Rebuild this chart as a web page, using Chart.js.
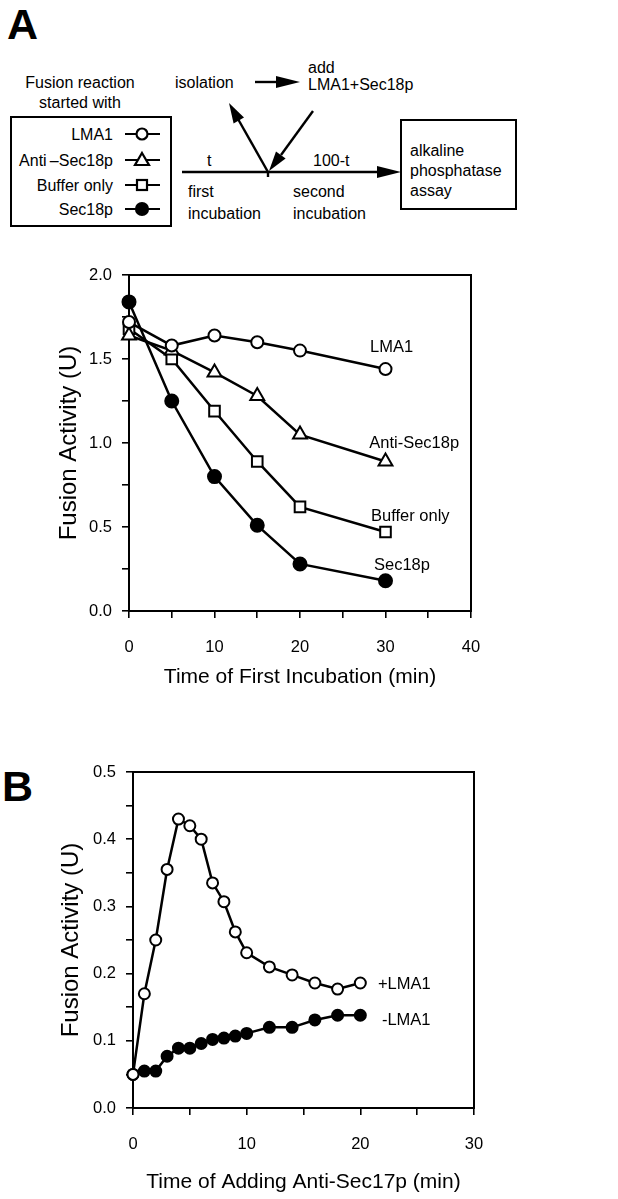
<!DOCTYPE html>
<html>
<head>
<meta charset="utf-8">
<script src="https://cdn.jsdelivr.net/npm/chart.js@4.4.1/dist/chart.umd.min.js"></script>
<style>
  html, body { margin: 0; padding: 0; background: #fff; }
  #page { position: relative; width: 618px; height: 1199px; overflow: hidden; font-family: "Liberation Sans", Arial, sans-serif; }
  #diagram { position: absolute; left: 0; top: 0; }
  .box { position: absolute; left: 0; width: 618px; }
  #boxA { top: 240px; height: 460px; }
  #boxB { top: 730px; height: 469px; }
</style>
</head>
<body>
<div id="page">
  <svg id="diagram" width="618" height="1199" font-family="Liberation Sans, Arial, sans-serif">
    <text x="7" y="39" font-size="43" font-weight="bold">A</text>
    <text x="2" y="801" font-size="43" font-weight="bold">B</text>

    <g font-size="16" fill="#000">
      <text x="80" y="88" text-anchor="middle">Fusion reaction</text>
      <text x="80" y="108" text-anchor="middle">started with</text>
      <rect x="11" y="117" width="160" height="109" fill="none" stroke="#000" stroke-width="2"/>
      <text x="113" y="140" text-anchor="end">LMA1</text>
      <text x="113" y="166" text-anchor="end">Anti&#8201;–Sec18p</text>
      <text x="113" y="191" text-anchor="end">Buffer only</text>
      <text x="113" y="215" text-anchor="end">Sec18p</text>
    </g>
    <g stroke="#000" stroke-width="2.2">
      <line x1="125" y1="134" x2="160" y2="134"/>
      <circle cx="142" cy="134" r="5.5" fill="#fff"/>
      <line x1="125" y1="160" x2="160" y2="160"/>
      <polygon points="142,153 149,165 135,165" fill="#fff"/>
      <line x1="125" y1="185" x2="160" y2="185"/>
      <rect x="137" y="180" width="10" height="10" fill="#fff"/>
      <line x1="125" y1="209" x2="160" y2="209"/>
      <circle cx="142" cy="209" r="6" fill="#000"/>
    </g>

    <g font-size="16" fill="#000">
      <text x="175" y="88">isolation</text>
      <text x="308" y="73">add</text>
      <text x="308" y="90">LMA1+Sec18p</text>
      <text x="207" y="166">t</text>
      <text x="313" y="166">100-t</text>
      <text x="188" y="197">first</text>
      <text x="188" y="219">incubation</text>
      <text x="293" y="197">second</text>
      <text x="293" y="219">incubation</text>
      <text x="410" y="156">alkaline</text>
      <text x="410" y="176">phosphatase</text>
      <text x="410" y="196">assay</text>
    </g>
    <g stroke="#000" stroke-width="2.4" fill="#000">
      <line x1="255" y1="82" x2="280" y2="82"/>
      <polygon points="300,82 276,76 276,88" stroke="none"/>
      <line x1="268" y1="172" x2="238" y2="119"/>
      <polygon points="229,103 244,117.5 233.6,123.4" stroke="none"/>
      <line x1="313" y1="111" x2="281" y2="155"/>
      <polygon points="269,171 285.6,158.4 276,151.4" stroke="none"/>
      <line x1="182" y1="172" x2="380" y2="172"/>
      <line x1="268" y1="172" x2="268" y2="177"/>
      <polygon points="401,172 377,166 377,178" stroke="none"/>
      <rect x="401" y="120" width="115" height="89" fill="none" stroke-width="2"/>
    </g>
  </svg>

  <div class="box" id="boxA"><canvas id="chartA" width="618" height="460"></canvas></div>
  <div class="box" id="boxB"><canvas id="chartB" width="618" height="469"></canvas></div>
</div>

<script>
// Panel A: time of first incubation (min)
const timesA = [0, 5, 10, 15, 20, 30];
const lma1A = [1.72, 1.58, 1.64, 1.60, 1.55, 1.44];
const antiSec18pA = [1.64, 1.55, 1.42, 1.28, 1.05, 0.89];
const bufferOnlyA = [1.68, 1.50, 1.19, 0.89, 0.62, 0.47];
const sec18pA = [1.84, 1.25, 0.80, 0.51, 0.28, 0.18];

// Panel B: time of adding anti-Sec17p (min)
const timesB = [0, 1, 2, 3, 4, 5, 6, 7, 8, 9, 10, 12, 14, 16, 18, 20];
const plusLma1B = [0.05, 0.17, 0.25, 0.355, 0.43, 0.42, 0.40, 0.335, 0.307, 0.262, 0.231, 0.21, 0.198, 0.186, 0.177, 0.186];
const minusLma1B = [0.05, 0.055, 0.055, 0.077, 0.089, 0.089, 0.096, 0.102, 0.104, 0.107, 0.111, 0.120, 0.120, 0.131, 0.138, 0.138];

const FONT = '"Liberation Sans", Arial, sans-serif';
Chart.defaults.font.family = FONT;
Chart.defaults.color = '#000';

const toPoints = (xs, ys) => xs.map((x, i) => ({ x: x, y: ys[i] }));

const series = (label, xs, ys, style, radius, fill) => ({
    label: label,
    data: toPoints(xs, ys),
    borderColor: '#000',
    borderWidth: 2.5,
    pointStyle: style,
    pointRadius: radius,
    pointHoverRadius: radius,
    pointBackgroundColor: fill,
    pointBorderColor: '#000',
    pointBorderWidth: 2,
    tension: 0,
    clip: false
});

// box round the plot area
const framePlugin = {
    id: 'frame',
    beforeDatasetsDraw(chart) {
        const { ctx, chartArea: a } = chart;
        ctx.save();
        ctx.strokeStyle = '#000';
        ctx.lineWidth = 2;
        ctx.strokeRect(a.left, a.top, a.right - a.left, a.bottom - a.top);
        ctx.restore();
    }
};

// text names next to the curves
const curveLabels = {
    id: 'curveLabels',
    afterDatasetsDraw(chart, args, opts) {
        const { ctx, scales } = chart;
        ctx.save();
        ctx.font = '16.5px ' + FONT;
        ctx.fillStyle = '#000';
        ctx.textBaseline = 'middle';
        opts.items.forEach(it => {
            ctx.fillText(it.text, scales.x.getPixelForValue(it.x), scales.y.getPixelForValue(it.y));
        });
        ctx.restore();
    }
};

const axisOptions = (cfg) => ({
    x: {
        type: 'linear',
        min: 0,
        max: cfg.xMax,
        afterFit: s => { s.height = cfg.xHeight; },
        grid: { drawOnChartArea: false, color: '#000', lineWidth: 1.6, tickLength: 7 },
        border: { color: '#000', width: 2 },
        ticks: {
            stepSize: 5,
            autoSkip: false,
            maxRotation: 0,
            padding: 20,
            font: { size: 16.5 },
            callback: v => (v % 10 === 0 ? String(v) : '')
        },
        title: {
            display: true,
            text: cfg.xTitle,
            font: { size: 21 },
            padding: { top: 0, bottom: cfg.xTitlePad }
        }
    },
    y: {
        min: 0,
        max: cfg.yMax,
        afterFit: s => { s.width = cfg.yWidth; },
        grid: { drawOnChartArea: false, color: '#000', lineWidth: 1.6, tickLength: 7 },
        border: { color: '#000', width: 2 },
        ticks: {
            stepSize: cfg.yStep,
            autoSkip: false,
            padding: 10,
            font: { size: 16.5 },
            callback: cfg.yLabel
        },
        title: {
            display: true,
            text: 'Fusion Activity (U)',
            font: { size: 24 },
            padding: { top: cfg.yTitlePad, bottom: 0 }
        }
    }
});

new Chart(document.getElementById('chartA'), {
    type: 'line',
    data: {
        datasets: [
            series('Sec18p', timesA, sec18pA, 'circle', 6.5, '#000'),
            series('LMA1', timesA, lma1A, 'circle', 6, '#fff'),
            series('Anti-Sec18p', timesA, antiSec18pA, 'triangle', 8, '#fff'),
            series('Buffer only', timesA, bufferOnlyA, 'rect', 7.5, '#fff')
        ]
    },
    options: {
        responsive: false,
        animation: false,
        layout: { padding: { left: 0, right: 147, top: 35, bottom: 0 } },
        plugins: {
            legend: { display: false },
            tooltip: { enabled: false },
            curveLabels: {
                items: [
                    { text: 'LMA1', x: 28.2, y: 1.57 },
                    { text: 'Anti-Sec18p', x: 28.1, y: 1.0 },
                    { text: 'Buffer only', x: 28.3, y: 0.565 },
                    { text: 'Sec18p', x: 28.65, y: 0.274 }
                ]
            }
        },
        scales: axisOptions({
            xMax: 40, xHeight: 89, xTitle: 'Time of First Incubation (min)', xTitlePad: 10,
            yMax: 2.0, yStep: 0.25, yWidth: 129, yTitlePad: 55,
            yLabel: v => (Math.round(v * 100) % 50 === 0 ? v.toFixed(1) : '')
        })
    },
    plugins: [framePlugin, curveLabels]
});

new Chart(document.getElementById('chartB'), {
    type: 'line',
    data: {
        datasets: [
            series('+LMA1', timesB, plusLma1B, 'circle', 5.5, '#fff'),
            series('-LMA1', timesB, minusLma1B, 'circle', 5.5, '#000')
        ]
    },
    options: {
        responsive: false,
        animation: false,
        layout: { padding: { left: 0, right: 144, top: 42, bottom: 0 } },
        plugins: {
            legend: { display: false },
            tooltip: { enabled: false },
            curveLabels: {
                items: [
                    { text: '+LMA1', x: 21.55, y: 0.1845 },
                    { text: '-LMA1', x: 21.9, y: 0.131 }
                ]
            }
        },
        scales: axisOptions({
            xMax: 30, xHeight: 91, xTitle: 'Time of Adding Anti-Sec17p (min)', xTitlePad: 4,
            yMax: 0.5, yStep: 0.05, yWidth: 133, yTitlePad: 57,
            yLabel: v => (Math.round(v * 100) % 10 === 0 ? v.toFixed(1) : '')
        })
    },
    plugins: [framePlugin, curveLabels]
});
</script>
</body>
</html>
